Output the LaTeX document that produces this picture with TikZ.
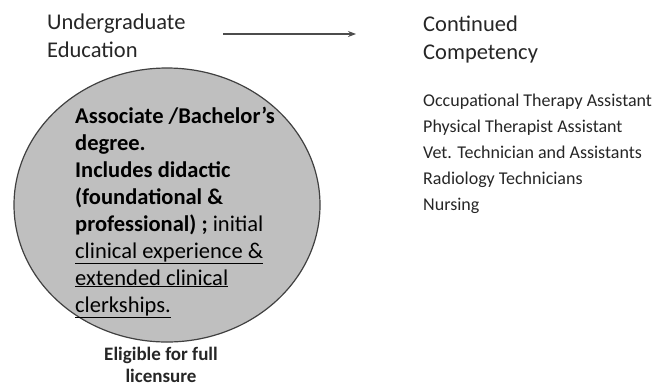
\documentclass[tikz,border=0pt]{standalone}
\usepackage{fontspec}
\setmainfont{Carlito}
\usetikzlibrary{arrows.meta}
\begin{document}
\begin{tikzpicture}[x=1pt,y=-1pt,
  head/.style={inner sep=0pt,anchor=base west,text=black!85,font=\fontsize{22.5}{27}\selectfont},
  lst/.style={inner sep=0pt,anchor=base west,text=black!85,font=\fontsize{18}{21}\selectfont},
  body/.style={inner sep=0pt,anchor=base west,text=black,font=\fontsize{22.5}{27}\selectfont},
  elg/.style={inner sep=0pt,anchor=base,text=black!85,font=\fontsize{19}{23}\selectfont\bfseries},
  arr/.style={-{Stealth[length=8pt,width=6pt]},line width=1.3pt,black!70}]
\useasboundingbox (0,0) rectangle (655,389);
\draw[draw=black!75,line width=1.2pt,fill=black!25] (167,205) ellipse [x radius=153, y radius=137];
\node[inner sep=0pt] (circ) at (167,205) {};
\node[head] (ug1) at (47,29) {Undergraduate};
\node[head] (ug2) at (47,57) {Education};
\node[head] (cc1) at (423,31) {Continued};
\node[head] (cc2) at (423,59) {Competency};
\coordinate (a1) at (223,34);
\coordinate (a2) at (356,34);
\draw[arr] (a1) -- (a2);
\node[lst] (o1) at (423,106) {Occupational Therapy Assistant};
\node[lst] (o2) at (423,132) {Physical Therapist Assistant};
\node[lst] (o3) at (423,158) {Vet. Technician and Assistants};
\node[lst] (o4) at (423,184) {Radiology Technicians};
\node[lst] (o5) at (423,210) {Nursing};
\node[body] (b1) at (75,123) {\bfseries Associate /Bachelor’s};
\node[body] (b2) at (75,150) {\bfseries degree.};
\node[body] (b3) at (75,177) {\bfseries Includes didactic};
\node[body] (b4) at (75,204) {\bfseries (foundational \&};
\node[body] (b5) at (75,231) {\bfseries professional) ; \mdseries initial};
\node[body] (b6) at (75,258) {\underline{clinical experience \&}};
\node[body] (b7) at (75,285) {\underline{extended clinical}};
\node[body] (b8) at (75,312) {\underline{clerkships.}};
\node[elg] (e1) at (161,360) {Eligible for full};
\node[elg] (e2) at (161,382) {licensure};
\end{tikzpicture}
\end{document}
